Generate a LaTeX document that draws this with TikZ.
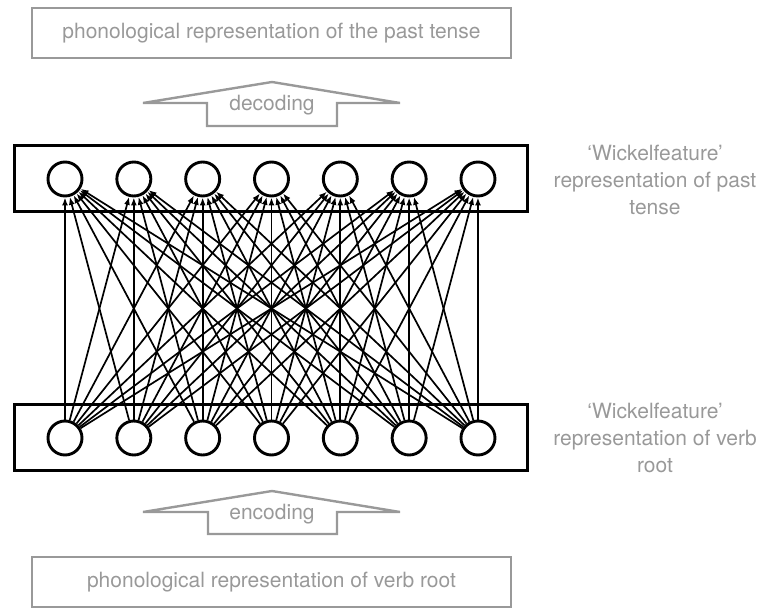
\documentclass[tikz,border=0pt]{standalone}
\usepackage{fontspec}
\setmainfont{TeX Gyre Heros}
\usetikzlibrary{arrows.meta}
\definecolor{labgray}{gray}{0.6}
\tikzset{
  unit/.style={draw, circle, line width=2.9pt, minimum size=34pt, inner sep=0pt, fill=white},
  layerbox/.style={draw, line width=3pt, minimum width=513pt, minimum height=66pt},
  reprbox/.style={draw=labgray, line width=2.4pt, text=labgray, minimum width=479pt, minimum height=50pt},
  conn/.style={-{Latex[length=8pt, width=6pt]}, line width=1.7pt},
  sidelabel/.style={text=labgray, align=center},
  hollow/.style={draw=labgray, line width=2.4pt, line join=miter}
}

\begin{document}
\begin{tikzpicture}[x=1pt, y=-1pt, every node/.style={font=\fontsize{21}{27}\selectfont}]
  \useasboundingbox (0,0) rectangle (765,609);

  % phonological layers
  \node[reprbox] (pastphon) at (271.5,33) {phonological representation of the past tense};
  \node[reprbox] (rootphon) at (271.5,582) {phonological representation of verb root};

  % decoding / encoding arrows
  \draw[hollow] (143,103) -- (207,103) -- (207,126) -- (337,126) -- (337,103) -- (400,103) -- (272,82) -- cycle;
  \node[text=labgray] (dec) at (272,105) {decoding};
  \draw[hollow] (143,512) -- (208,512) -- (208,534) -- (337,534) -- (337,512) -- (400,512) -- (272,491) -- cycle;
  \node[text=labgray] (enc) at (272,514) {encoding};

  % wickelfeature layers
  \node[layerbox] (pastlayer) at (270.5,179) {};
  \node[layerbox] (rootlayer) at (270.5,437) {};
  \foreach \i in {1,...,7} {
    \node[unit] (t\i) at ({65+68.83*(\i-1)},179) {};
    \node[unit] (b\i) at ({65+68.83*(\i-1)},438) {};
  }

  % full connectivity
  \foreach \i in {1,...,7} {
    \foreach \j in {1,...,7} {
      \draw[conn] (b\i) -- (t\j);
    }
  }

  \node[sidelabel] (pastlab) at (655,180) {‘Wickelfeature’\\representation of past\\tense};
  \node[sidelabel] (rootlab) at (655,438) {‘Wickelfeature’\\representation of verb\\root};
\end{tikzpicture}
\end{document}
